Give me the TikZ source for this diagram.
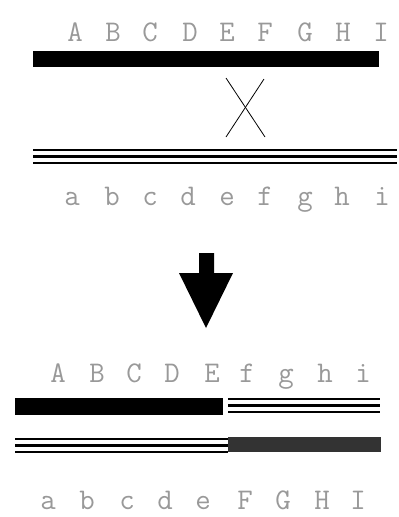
\documentclass[tikz,border=0pt]{standalone}
\usepackage{tikz}
\usetikzlibrary{positioning, calc}

\tikzset{
    letter/.style={anchor=base, text=gray!80, font=\ttfamily\fontsize{30}{30}\selectfont, inner sep=0pt},
    solidbar/.style={fill=black},
    strand/.style={line width=1.8pt, black},
}

\begin{document}
\begin{tikzpicture}[x=1pt, y=-1pt]
    \useasboundingbox (0,0) rectangle (399,517);

    % Upper letters of the first chromosome
    \foreach \l/\x in {A/75, B/113, C/150, D/190, E/227, F/265, G/305, H/343, I/381} {
        \node[letter] (up-\l) at (\x,41) {\l};
    }

    % First chromosome (solid)
    \fill[solidbar] (33,51) rectangle (379,67);

    % Crossing over
    \coordinate (cx-a) at (226,78);
    \coordinate (cx-b) at (265,137);
    \coordinate (cx-c) at (264,79);
    \coordinate (cx-d) at (226,137);
    \draw[line width=0.8pt] (cx-a) -- (cx-b);
    \draw[line width=0.8pt] (cx-c) -- (cx-d);

    % Second chromosome (triple line)
    \foreach \y in {150,163} {
        \draw[strand] (33,\y) -- (397,\y);
    }
    \draw[strand, line width=2.4pt] (33,156.5) -- (397,156.5);

    % Lower letters of the second chromosome
    \foreach \l/\x in {a/72, b/112, c/150, d/188, e/227, f/265, g/305, h/342, i/382} {
        \node[letter] (lo-\l) at (\x,205) {\l};
    }

    % Arrow
    \fill[black] (199,253) -- (214,253) -- (214,273) -- (233,273) -- (206,328)
        -- (179,273) -- (199,273) -- cycle;

    % Recombinant 1
    \foreach \l/\x in {A/58, B/97, C/134, D/172, E/212, f/247, g/286, h/325, i/363} {
        \node[letter] (ra-\l) at (\x,382) {\l};
    }
    \fill[solidbar] (15,398) rectangle (223,415);
    \foreach \y in {399,412} {
        \draw[strand] (228,\y) -- (380,\y);
    }
    \draw[strand, line width=2.4pt] (228,405.5) -- (380,405.5);

    % Recombinant 2
    \foreach \y in {439,452} {
        \draw[strand] (15,\y) -- (228,\y);
    }
    \draw[strand, line width=2.4pt] (15,445.5) -- (228,445.5);
    \fill[black!80] (228,437) rectangle (381,452);
    \foreach \l/\x in {a/48, b/87, c/127, d/165, e/203, F/245, G/283, H/322, I/358} {
        \node[letter] (rb-\l) at (\x,509) {\l};
    }

\end{tikzpicture}
\end{document}
